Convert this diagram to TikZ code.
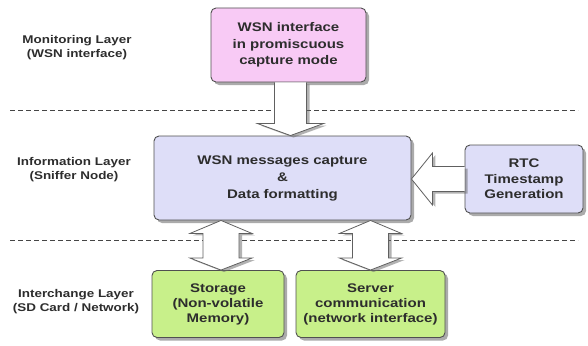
\documentclass[tikz,border=0pt]{standalone}
\usepackage{fontspec}
\setmainfont{Liberation Sans}[FakeStretch=1.2]
\usetikzlibrary{calc,shadows}
\definecolor{pinkfill}{RGB}{248,202,245}
\definecolor{bluefill}{RGB}{222,222,248}
\definecolor{greenfill}{RGB}{200,240,138}
\definecolor{edgecol}{RGB}{80,80,80}
\definecolor{txtcol}{RGB}{45,45,45}
\definecolor{dashcol}{RGB}{70,70,70}
\begin{document}
\begin{tikzpicture}[x=1pt,y=-1pt,
  box/.style={draw=edgecol, line width=0.9pt, rounded corners=5pt, inner sep=0pt,
    align=center, text=txtcol, font=\bfseries\fontsize{12.5}{16.5}\selectfont,
    drop shadow={shadow xshift=3pt, shadow yshift=-3pt, fill=black!60, opacity=.55}},
  layer/.style={align=center, text=txtcol, font=\bfseries\fontsize{11.2}{14}\selectfont},
  dashline/.style={draw=dashcol, line width=1pt, dash pattern=on 5pt off 3pt},
  blockarrow/.style={draw=gray!75!black, line width=0.8pt, fill=white, line join=miter,
    drop shadow={shadow xshift=3pt, shadow yshift=-2pt, fill=black!60, opacity=.5}}]
\useasboundingbox (0,0) rectangle (588,345);
% layer separators
\coordinate (d1a) at (10,110); \coordinate (d1b) at (578,110);
\coordinate (d2a) at (10,240); \coordinate (d2b) at (578,240);
\draw[dashline] (d1a) -- (d1b);
\draw[dashline] (d2a) -- (d2b);
% layer labels
\node[layer] (l1) at (77,48) {Monitoring Layer\\(WSN interface)};
\node[layer] (l2) at (74,170) {Information Layer\\(Sniffer Node)};
\node[layer] (l3) at (76,302) {Interchange Layer\\(SD Card / Network)};
% boxes
\node[box, fill=pinkfill, minimum width=155pt, minimum height=74pt] (wsn) at (288.5,45)
  {WSN interface\\in promiscuous\\capture mode};
\node[box, fill=bluefill, minimum width=257pt, minimum height=84pt, font=\bfseries\fontsize{12.5}{17}\selectfont] (cap) at (282.5,178)
  {WSN messages capture\\\&\\Data formatting};
\node[box, fill=bluefill, minimum width=118pt, minimum height=68pt, font=\bfseries\fontsize{12.5}{15.5}\selectfont] (rtc) at (524,179)
  {RTC\\Timestamp\\Generation};
\node[box, fill=greenfill, minimum width=132pt, minimum height=67pt, font=\bfseries\fontsize{12.5}{15}\selectfont] (sto) at (218,304)
  {Storage\\(Non-volatile\\Memory)};
\node[box, fill=greenfill, minimum width=149pt, minimum height=67pt, font=\bfseries\fontsize{12.5}{15}\selectfont] (srv) at (370.5,304)
  {Server\\communication\\(network interface)};
% down arrow: wsn -> cap
\coordinate (a1s) at ($(wsn.south)+(2,0)$);
\coordinate (a1t) at (a1s |- cap.north);
\draw[blockarrow] ($(a1s)+(-16,0)$) -- ($(a1t)+(-16,-12)$) -- ($(a1t)+(-33,-12)$) -- (a1t)
  -- ($(a1t)+(33,-12)$) -- ($(a1t)+(16,-12)$) -- ($(a1s)+(16,0)$);
% left arrow: rtc -> cap
\coordinate (a2s) at (rtc.west);
\coordinate (a2t) at (cap.east |- rtc.west);
\draw[blockarrow] ($(a2s)+(0,-12.5)$) -- ($(a2t)+(21,-12.5)$) -- ($(a2t)+(21,-26)$) -- (a2t)
  -- ($(a2t)+(21,26)$) -- ($(a2t)+(21,12.5)$) -- ($(a2s)+(0,12.5)$);
% double arrows: cap <-> sto, cap <-> srv
\foreach \n/\dx in {sto/3, srv/0} {
  \coordinate (b) at ($(\n.north)+(\dx,0)$);
  \coordinate (t) at (b |- cap.south);
  \draw[blockarrow] (t) -- ($(t)+(31,13)$) -- ($(t)+(18,13)$) -- ($(b)+(18,-12)$)
    -- ($(b)+(31,-12)$) -- (b) -- ($(b)+(-31,-12)$) -- ($(b)+(-18,-12)$)
    -- ($(t)+(-18,13)$) -- ($(t)+(-31,13)$) -- cycle;
}
\end{tikzpicture}
\end{document}
